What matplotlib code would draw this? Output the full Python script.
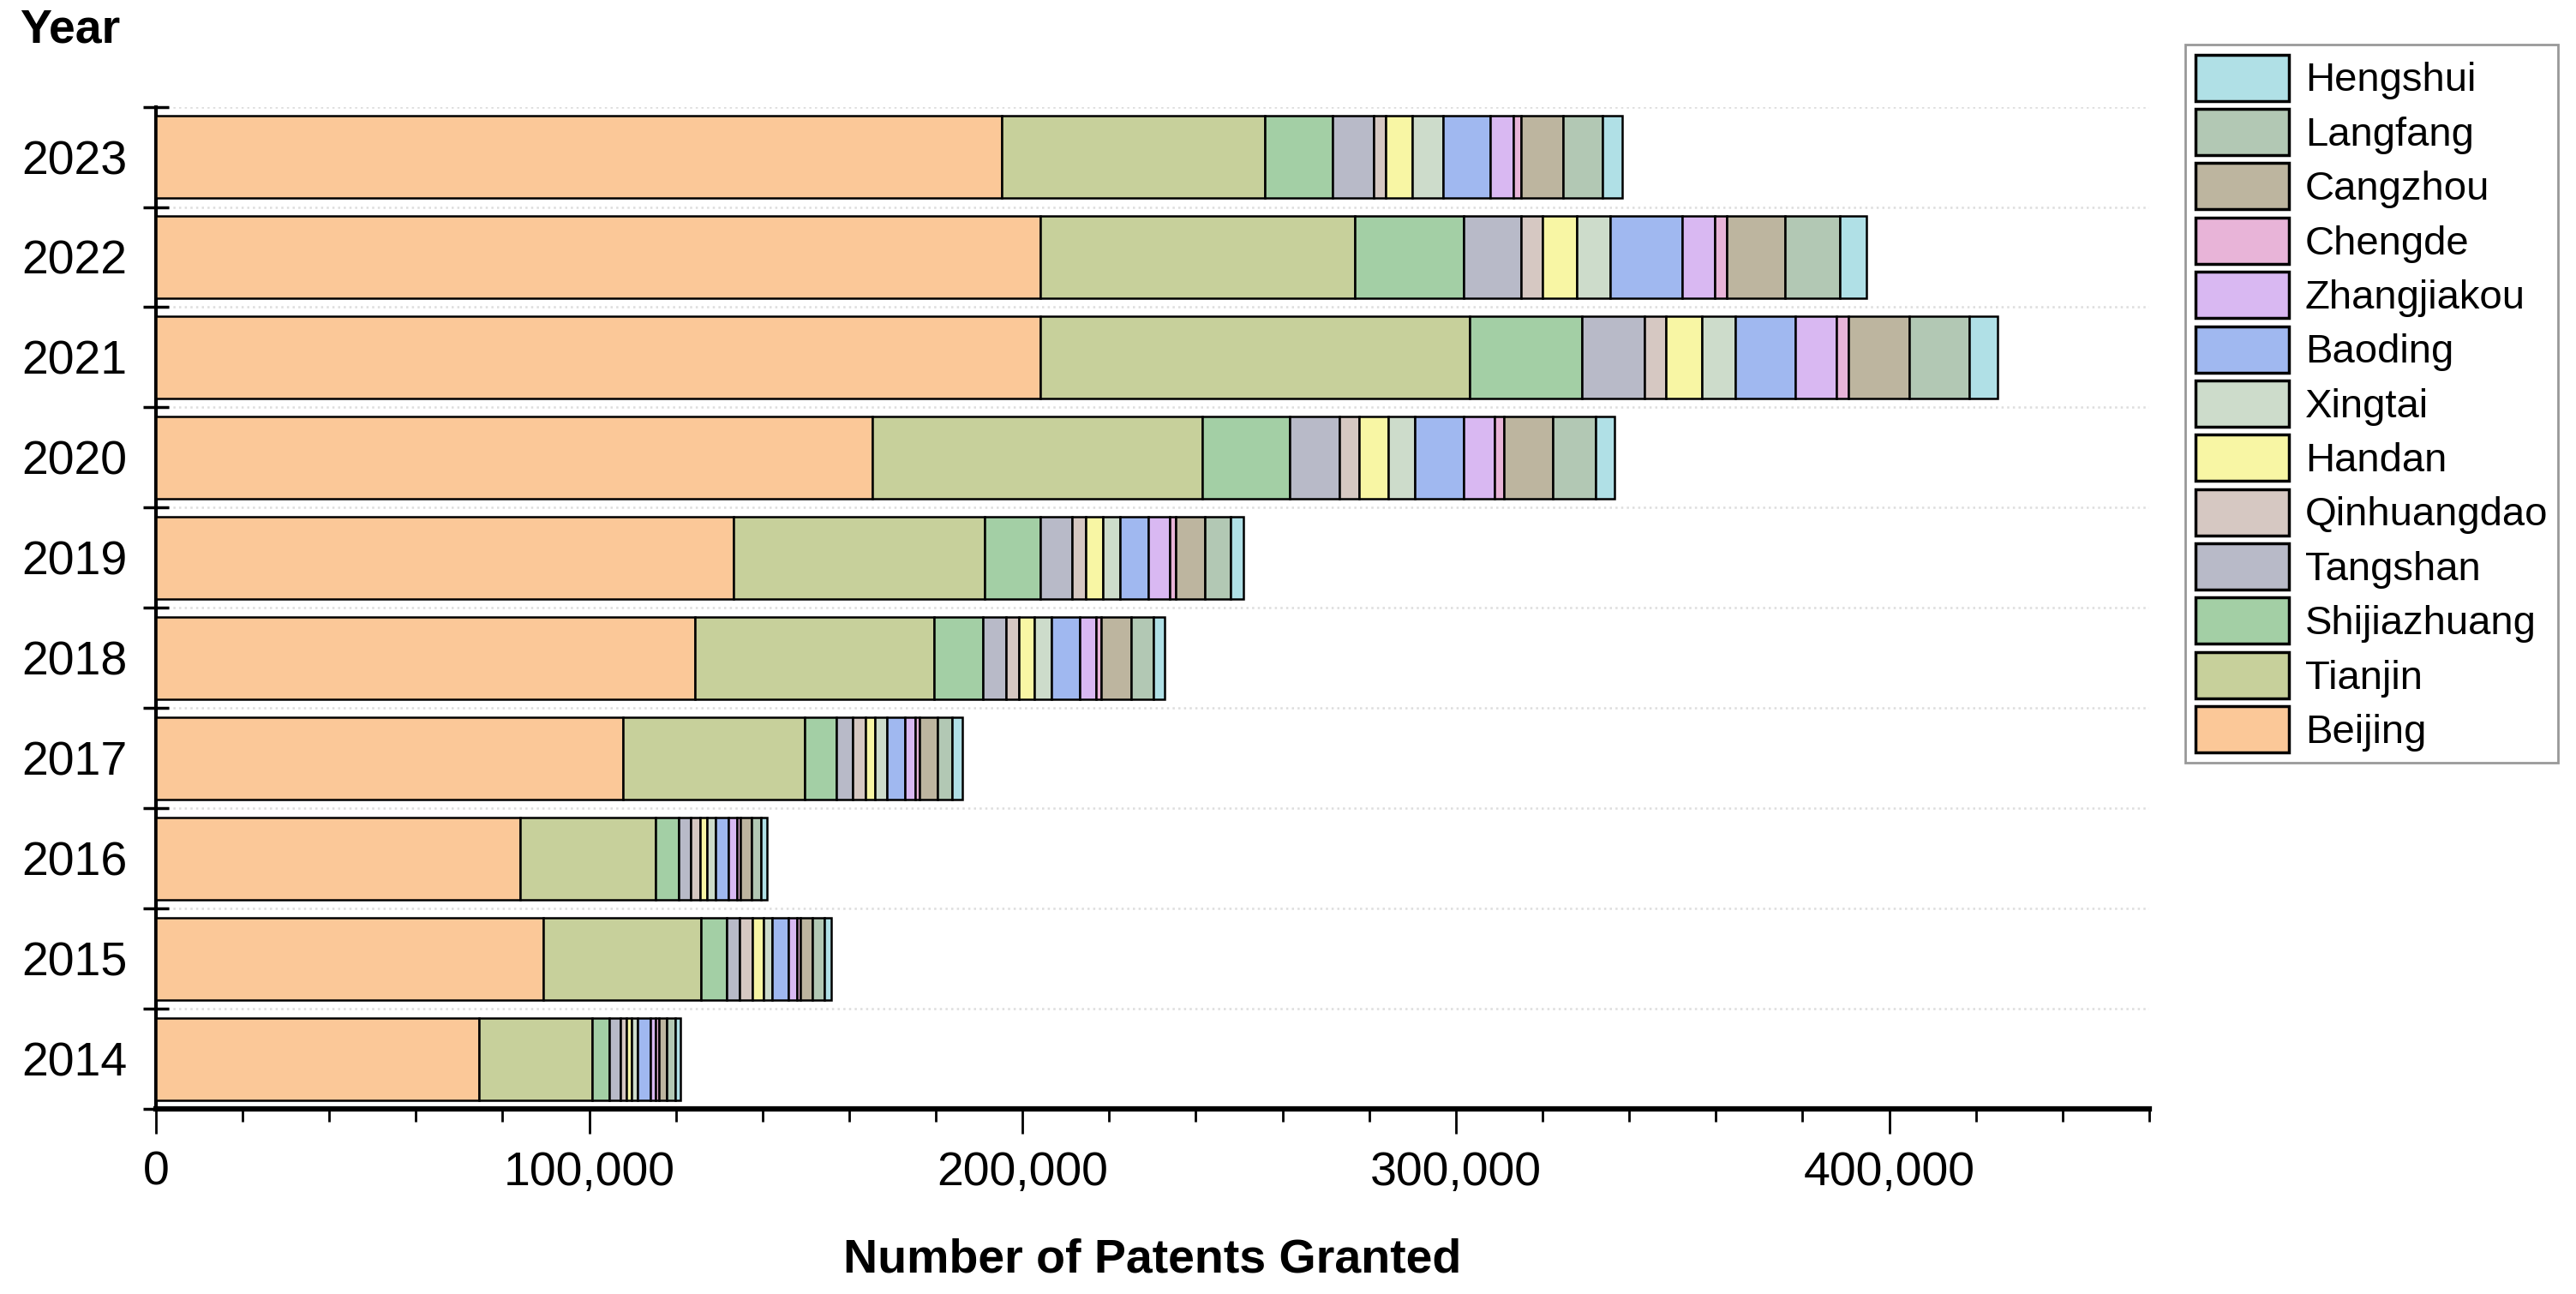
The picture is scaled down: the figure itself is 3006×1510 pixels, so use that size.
import matplotlib
matplotlib.use("Agg")
import matplotlib.pyplot as plt
import numpy as np
from matplotlib.ticker import FuncFormatter, MultipleLocator
from matplotlib.patches import Patch

plt.rcParams['font.family'] = ['Liberation Sans', 'DejaVu Sans']

years = ['2014', '2015', '2016', '2017', '2018', '2019', '2020', '2021', '2022', '2023']
cities = ['Beijing', 'Tianjin', 'Shijiazhuang', 'Tangshan', 'Qinhuangdao', 'Handan',
          'Xingtai', 'Baoding', 'Zhangjiakou', 'Chengde', 'Cangzhou', 'Langfang', 'Hengshui']

# patents granted per city, one list per city, in year order 2014..2023
beijing      = [74530, 89400, 84110, 107830, 124490, 133390, 165330, 204020, 204040, 195250]
tianjin      = [26220, 36470, 31270, 41990, 55180, 57970, 76090, 99140, 72740, 60680]
shijiazhuang = [3920, 5800, 5310, 7320, 11110, 12770, 20250, 26030, 25040, 15670]
tangshan     = [2530, 3020, 2650, 3660, 5460, 7300, 11500, 14380, 13190, 9530]
qinhuangdao  = [1380, 2910, 2270, 2900, 2950, 3170, 4560, 5000, 5030, 2750]
handan       = [1130, 2650, 1510, 2280, 3560, 3870, 6590, 8170, 7790, 5990]
xingtai      = [1520, 1880, 2020, 2650, 4010, 3940, 6230, 7720, 7790, 7130]
baoding      = [2910, 3790, 3040, 4160, 6510, 6600, 11270, 13930, 16650, 10930]
zhangjiakou  = [1250, 2020, 2020, 2530, 3780, 4970, 7060, 9390, 7560, 5410]
chengde      = [630, 870, 750, 870, 1150, 1460, 2160, 2870, 2630, 1720]
cangzhou     = [1900, 2650, 2510, 4170, 6800, 6610, 11270, 13920, 13540, 9700]
langfang     = [1900, 2770, 2280, 3400, 5300, 6010, 10050, 13930, 12650, 9040]
hengshui     = [1240, 1660, 1260, 2400, 2420, 2990, 4330, 6500, 6050, 4570]

series = [beijing, tianjin, shijiazhuang, tangshan, qinhuangdao, handan, xingtai,
          baoding, zhangjiakou, chengde, cangzhou, langfang, hengshui]

colors = ['#FBC898', '#C7D09B', '#A3CFA5', '#B8BAC8', '#D6C8C2', '#F8F6A4', '#CDDCCB',
          '#A0B8F0', '#D9B8F2', '#E8B4D8', '#BDB59F', '#B2C8B4', '#B0E0E6']

fig = plt.figure(figsize=(30.06, 15.10), dpi=100)
ax = fig.add_axes([0.0605, 0.143, 0.7738, 0.7745])

y = np.arange(len(years))
left = np.zeros(len(years))
for name, vals, c in zip(cities, series, colors):
    ax.barh(y, vals, left=left, height=0.82, color=c, edgecolor='black',
            linewidth=1.8, label=name, zorder=3)
    left += np.array(vals)

ax.set_xlim(0, 460000)
ax.set_ylim(-0.5, 9.5)

ax.set_yticks(y)
ax.set_yticklabels(years, fontsize=40)
ax.set_yticks(np.arange(-0.5, 10, 1), minor=True)
ax.tick_params(axis='y', which='major', length=0, pad=24)
ax.tick_params(axis='y', which='minor', direction='inout', length=22, width=2.5)
ax.grid(axis='y', which='minor', linestyle=':', color='#DDDDDD', linewidth=1.8, zorder=0)

ax.xaxis.set_major_locator(MultipleLocator(100000))
ax.xaxis.set_minor_locator(MultipleLocator(20000))
ax.xaxis.set_major_formatter(FuncFormatter(lambda v, p: f"{int(v):,}"))
ax.tick_params(axis='x', which='major', direction='out', length=21, width=2, labelsize=40, pad=14)
ax.tick_params(axis='x', which='minor', direction='out', length=11, width=2)

for s in ['top', 'right']:
    ax.spines[s].set_visible(False)
ax.spines['left'].set_linewidth(3)
ax.spines['bottom'].set_linewidth(4.5)

ax.set_xlabel('Number of Patents Granted', fontsize=40, fontweight='bold', labelpad=36)
fig.text(23 / 3006, 1 - 10 / 1510, 'Year', fontsize=40, fontweight='bold', va='top', ha='left')

handles = [Patch(facecolor=c, edgecolor='black', linewidth=2.5) for c in colors][::-1]
labels = cities[::-1]
leg = fig.legend(handles, labels, loc='upper right', bbox_to_anchor=(0.993, 0.9656),
                 borderaxespad=0, fontsize=34, handlelength=2.31, handleheight=1.38,
                 labelspacing=0.2, handletextpad=0.4, borderpad=0.25,
                 fancybox=False, framealpha=1)
leg.get_frame().set_edgecolor('#999999')
leg.get_frame().set_linewidth(2)

fig.savefig('out.png', dpi=100)
